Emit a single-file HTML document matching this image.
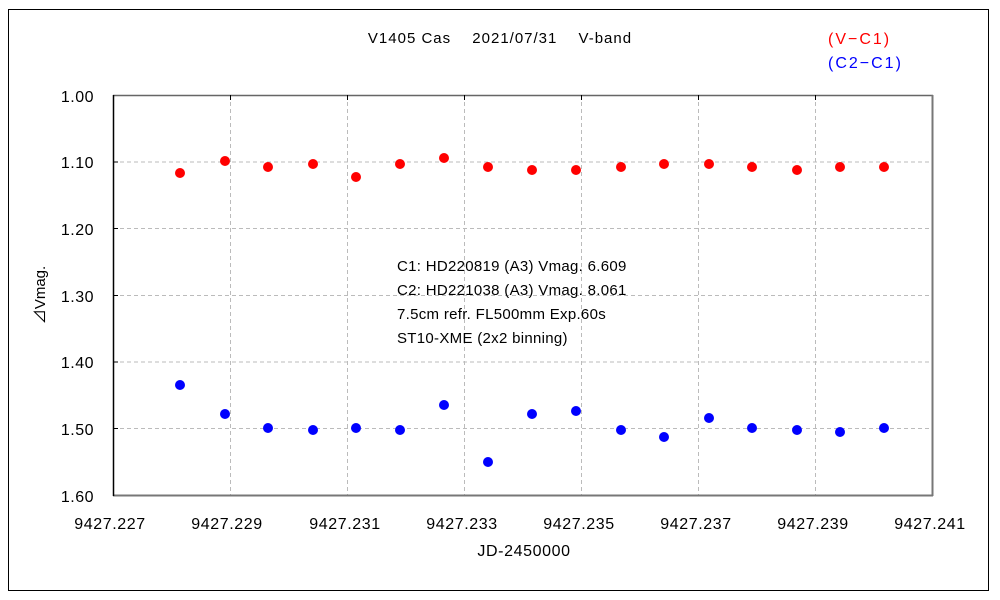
<!DOCTYPE html>
<html><head><meta charset="utf-8"><style>
body{margin:0;background:#fff;}
svg{display:block;font-family:"Liberation Sans","Noto Sans CJK JP",sans-serif;}
</style></head><body>
<svg width="1000" height="600" xmlns="http://www.w3.org/2000/svg">
<rect x="0" y="0" width="1000" height="600" fill="#fff"/>
<rect x="8.5" y="9.5" width="980" height="581" fill="none" stroke="#000" stroke-width="1"/>
<g stroke="#bbb" stroke-dasharray="4,3" stroke-width="1">
<line x1="113" y1="162" x2="933" y2="162"/>
<line x1="113" y1="228.5" x2="933" y2="228.5"/>
<line x1="113" y1="295.5" x2="933" y2="295.5"/>
<line x1="113" y1="362" x2="933" y2="362"/>
<line x1="113" y1="428.5" x2="933" y2="428.5"/>
<line x1="230.5" y1="95" x2="230.5" y2="495"/>
<line x1="347.5" y1="95" x2="347.5" y2="495"/>
<line x1="464.5" y1="95" x2="464.5" y2="495"/>
<line x1="581.5" y1="95" x2="581.5" y2="495"/>
<line x1="698.5" y1="95" x2="698.5" y2="495"/>
<line x1="815.5" y1="95" x2="815.5" y2="495"/>
</g>
<line x1="113" y1="95.5" x2="933" y2="95.5" stroke="#666" stroke-width="1.5"/>
<line x1="932.5" y1="95" x2="932.5" y2="496" stroke="#777" stroke-width="2"/>
<line x1="113" y1="495.5" x2="933" y2="495.5" stroke="#777" stroke-width="2"/>
<line x1="113.5" y1="95" x2="113.5" y2="496" stroke="#000" stroke-width="1.5"/>
<g stroke="#000" stroke-width="1">
<line x1="230.5" y1="95" x2="230.5" y2="100"/><line x1="347.5" y1="95" x2="347.5" y2="100"/><line x1="464.5" y1="95" x2="464.5" y2="100"/><line x1="581.5" y1="95" x2="581.5" y2="100"/><line x1="698.5" y1="95" x2="698.5" y2="100"/><line x1="815.5" y1="95" x2="815.5" y2="100"/>
<line x1="113" y1="162" x2="118" y2="162"/><line x1="113" y1="228.5" x2="118" y2="228.5"/><line x1="113" y1="295.5" x2="118" y2="295.5"/><line x1="113" y1="362" x2="118" y2="362"/><line x1="113" y1="428.5" x2="118" y2="428.5"/>
</g>
<g font-size="16" fill="#000" text-anchor="end" letter-spacing="0.5">
<text x="94" y="102">1.00</text><text x="94" y="168">1.10</text><text x="94" y="235">1.20</text><text x="94" y="302">1.30</text><text x="94" y="368">1.40</text><text x="94" y="435">1.50</text><text x="94" y="502">1.60</text>
</g>
<g font-size="16" fill="#000" text-anchor="middle" letter-spacing="0.6">
<text x="110" y="529">9427.227</text><text x="227" y="529">9427.229</text><text x="345" y="529">9427.231</text><text x="462" y="529">9427.233</text><text x="579" y="529">9427.235</text><text x="696" y="529">9427.237</text><text x="813" y="529">9427.239</text><text x="930" y="529">9427.241</text>
<text x="524" y="556">JD-2450000</text>
</g>
<text x="500" y="43" font-size="15" text-anchor="middle" letter-spacing="1" xml:space="preserve">V1405 Cas　 2021/07/31　 V-band</text>
<text x="45" y="295" font-size="15" text-anchor="middle" transform="rotate(-90 45 295)">⊿Vmag.</text>
<text x="828" y="44" font-size="16" fill="#f00" letter-spacing="2">(V−C1)</text>
<text x="828" y="68" font-size="16" fill="#00f" letter-spacing="2">(C2−C1)</text>
<g font-size="15" fill="#000" letter-spacing="0.3">
<text x="397" y="271">C1: HD220819 (A3) Vmag. 6.609</text>
<text x="397" y="295">C2: HD221038 (A3) Vmag. 8.061</text>
<text x="397" y="319">7.5cm refr. FL500mm Exp.60s</text>
<text x="397" y="343">ST10-XME (2x2 binning)</text>
</g>
<g fill="#f00">
<circle cx="180" cy="173" r="5"/><circle cx="225" cy="161" r="5"/><circle cx="268" cy="167" r="5"/><circle cx="313" cy="164" r="5"/><circle cx="356" cy="177" r="5"/><circle cx="400" cy="164" r="5"/><circle cx="444" cy="158" r="5"/><circle cx="488" cy="167" r="5"/><circle cx="532" cy="170" r="5"/><circle cx="576" cy="170" r="5"/><circle cx="621" cy="167" r="5"/><circle cx="664" cy="164" r="5"/><circle cx="709" cy="164" r="5"/><circle cx="752" cy="167" r="5"/><circle cx="797" cy="170" r="5"/><circle cx="840" cy="167" r="5"/><circle cx="884" cy="167" r="5"/>
</g>
<g fill="#00f">
<circle cx="180" cy="385" r="5"/><circle cx="225" cy="414" r="5"/><circle cx="268" cy="428" r="5"/><circle cx="313" cy="430" r="5"/><circle cx="356" cy="428" r="5"/><circle cx="400" cy="430" r="5"/><circle cx="444" cy="405" r="5"/><circle cx="488" cy="462" r="5"/><circle cx="532" cy="414" r="5"/><circle cx="576" cy="411" r="5"/><circle cx="621" cy="430" r="5"/><circle cx="664" cy="437" r="5"/><circle cx="709" cy="418" r="5"/><circle cx="752" cy="428" r="5"/><circle cx="797" cy="430" r="5"/><circle cx="840" cy="432" r="5"/><circle cx="884" cy="428" r="5"/>
</g>
</svg>
</body></html>
